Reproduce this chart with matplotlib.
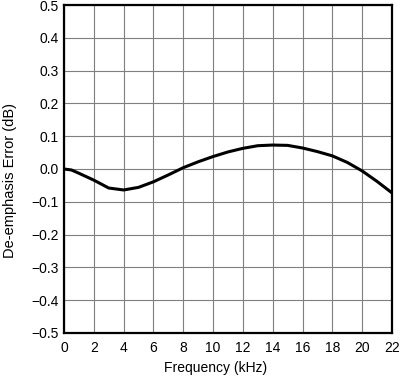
import matplotlib
matplotlib.use("Agg")
import matplotlib.pyplot as plt

freq_khz = [0, 0.5, 1, 2, 3, 4, 5, 6, 7, 8, 9, 10, 11, 12, 13, 14, 15, 16, 17, 18, 19, 20, 21, 22]
error_db = [0.0, -0.003, -0.013, -0.034, -0.058, -0.064, -0.056, -0.039, -0.018, 0.004, 0.022, 0.038,
            0.052, 0.063, 0.071, 0.073, 0.072, 0.064, 0.053, 0.040, 0.020, -0.006, -0.038, -0.073]
x_ticks = list(range(0, 23, 2))
y_ticks = [-0.5, -0.4, -0.3, -0.2, -0.1, 0.0, 0.1, 0.2, 0.3, 0.4, 0.5]
y_tick_labels = ['\u22120.5', '\u22120.4', '\u22120.3', '\u22120.2', '\u22120.1', '0.0',
                 '0.1', '0.2', '0.3', '0.4', '0.5']

plt.rcParams['font.family'] = ['Liberation Sans', 'DejaVu Sans']
fig = plt.figure(figsize=(4.01, 3.76), dpi=100)
ax = fig.add_axes([0.1596, 0.1144, 0.8180, 0.8723])

ax.plot(freq_khz, error_db, color='black', linewidth=2.2, solid_joinstyle='round', zorder=3)

ax.set_xlim(0, 22)
ax.set_ylim(-0.5, 0.5)
ax.set_xticks(x_ticks)
ax.set_yticks(y_ticks)
ax.set_xticklabels([str(t) for t in x_ticks])
ax.set_yticklabels(y_tick_labels)
ax.grid(True, color='#7f7f7f', linewidth=0.8)
ax.tick_params(axis='y', length=0, labelsize=10, pad=4)
ax.tick_params(axis='x', length=0, labelsize=10, pad=6)
for s in ax.spines.values():
    s.set_linewidth(1.6)
    s.set_color('black')
ax.set_xlabel('Frequency (kHz)', fontsize=10)
ax.set_ylabel('De-emphasis Error (dB)', fontsize=10.5)
ax.xaxis.set_label_coords(0.463, -0.086)
ax.yaxis.set_label_coords(-0.143, 0.466)

fig.savefig('out.png', dpi=100)
